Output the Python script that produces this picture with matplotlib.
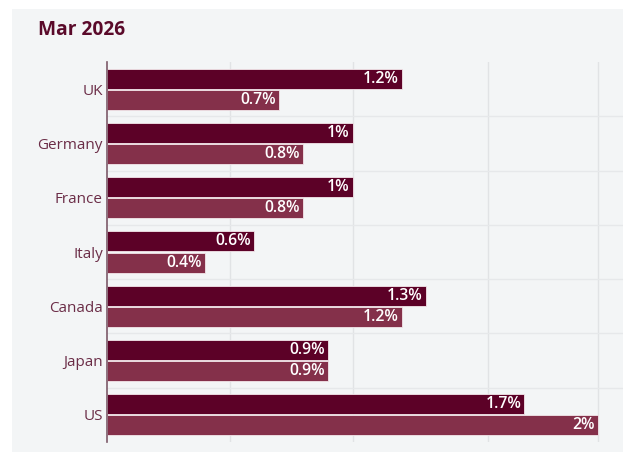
import matplotlib
matplotlib.use("Agg")
import matplotlib.pyplot as plt
from matplotlib.patches import Rectangle
import numpy as np

title = "Mar 2026"
countries = ["UK", "Germany", "France", "Italy", "Canada", "Japan", "US"]
series_a = [1.2, 1.0, 1.0, 0.6, 1.3, 0.9, 1.7]
series_b = [0.7, 0.8, 0.8, 0.4, 1.2, 0.9, 2.0]
labels_a = ["1.2%", "1%", "1%", "0.6%", "1.3%", "0.9%", "1.7%"]
labels_b = ["0.7%", "0.8%", "0.8%", "0.4%", "1.2%", "0.9%", "2%"]
grid_x = [0.5, 1.0, 1.55, 2.0]

W, H = 623, 455
fig = plt.figure(figsize=(W / 100, H / 100), dpi=100)
fig.patch.set_facecolor("white")

card_bg = "#f3f5f6"
fig.add_artist(Rectangle((12 / W, 3 / H), 1 - 12 / W, (452 - 9) / H,
                         transform=fig.transFigure, facecolor=card_bg,
                         edgecolor="none", zorder=-10))

fam = ["Open Sans", "DejaVu Sans"]
fig.text(38 / W, 1 - 30 / H, title, fontsize=13.8, fontweight="bold",
         color="#5a0a2a", family=fam, va="center", ha="left")

ax = fig.add_axes([107 / W, 13 / H, (W - 107) / W, (442 - 62) / H])
ax.set_zorder(1)
ax.set_facecolor(card_bg)

dark = "#5c0127"
light = "#84304a"
y = np.arange(len(countries))
h = 0.37
off = 0.195
ax.barh(y - off, series_a, height=h, color=dark, edgecolor="#f3e6ea",
        linewidth=0.6, zorder=3)
ax.barh(y + off, series_b, height=h, color=light, edgecolor="#f3e6ea",
        linewidth=0.6, zorder=3)

for i in range(len(countries)):
    ax.text(series_a[i] - 0.013, y[i] - off, labels_a[i], ha="right",
            va="center", color="white", fontsize=11.3, fontweight="semibold",
            family=fam, zorder=4)
    ax.text(series_b[i] - 0.013, y[i] + off, labels_b[i], ha="right",
            va="center", color="white", fontsize=11.3, fontweight="semibold",
            family=fam, zorder=4)

ax.set_xlim(0, (W - 107) / 245.5)
ax.set_ylim(len(countries) - 0.5, -0.5)

for gx in grid_x:
    ax.axvline(gx, color="#e1e3e5", linewidth=1.0, zorder=1)
for gy in np.arange(0.5, len(countries) - 0.5, 1.0):
    ax.axhline(gy, color="#e6e8ea", linewidth=1.0, zorder=1)

ax.set_yticks(y)
ax.set_yticklabels(countries, fontsize=11, color="#6b2d47", family=fam,
                   fontweight="medium")
ax.tick_params(axis="y", length=0, pad=3)
ax.set_xticks([])
for s in ["top", "right", "bottom"]:
    ax.spines[s].set_visible(False)
ax.spines["left"].set_color("#7d5a69")
ax.spines["left"].set_linewidth(1.2)
ax.spines["left"].set_zorder(5)

fig.savefig("out.png", dpi=100, facecolor=fig.get_facecolor())
